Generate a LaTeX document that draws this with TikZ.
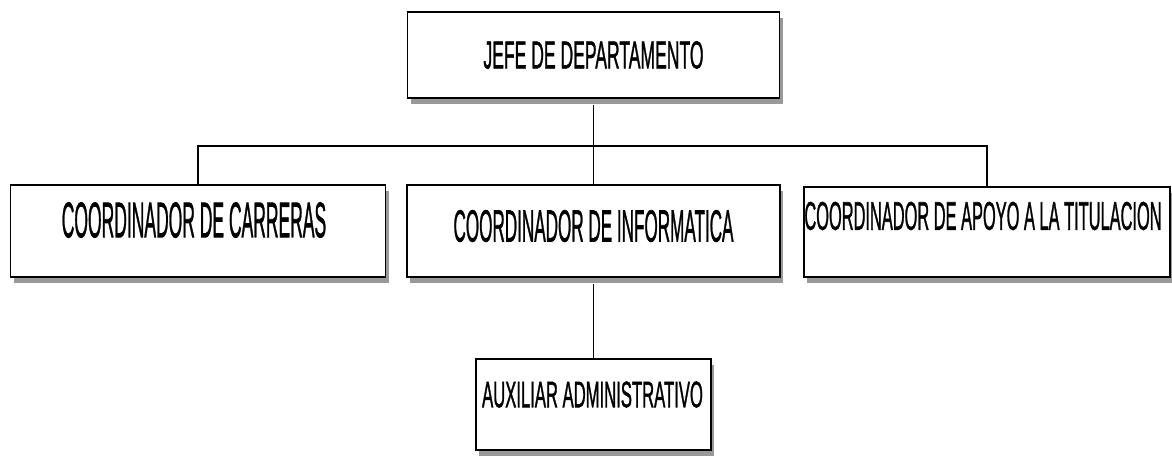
\documentclass[tikz,border=0pt]{standalone}
\usepackage{fontspec}
\usepackage{graphicx}
\setmainfont{Liberation Sans}
\newfontfamily\orgfont[FakeBold=1.5]{Liberation Sans}
\usetikzlibrary{shadows}
\newcommand{\otext}[3]{{\orgfont\fontsize{#2}{#2}\selectfont\scalebox{#1}[1]{#3}}}
\tikzset{
  orgbox/.style={draw=black, line width=1.6pt, fill=white, inner sep=0pt,
    rectangle, drop shadow={shadow xshift=3pt, shadow yshift=-6pt, fill=black!40, opacity=1}},
  orgtxt/.style={inner sep=0pt, text=black},
  conn/.style={draw=black, line width=1.6pt},
  bus/.style={draw=black, line width=2.4pt}
}
\begin{document}
\begin{tikzpicture}[x=1pt,y=-1pt]
\useasboundingbox (0,0) rectangle (1172,456);
\node[orgbox, minimum width=372pt, minimum height=86pt,
  label={[orgtxt]center:\otext{0.45}{39}{JEFE DE DEPARTAMENTO}}] (jefe) at (593.5,55) {};
\node[orgbox, minimum width=375pt, minimum height=92pt,
  label={[orgtxt,xshift=-4pt,yshift=11pt]center:\otext{0.35}{50}{COORDINADOR DE CARRERAS}}] (carr) at (198,231) {};
\node[orgbox, minimum width=373pt, minimum height=92pt,
  label={[orgtxt,yshift=5pt]center:\otext{0.38}{45}{COORDINADOR DE INFORMATICA}}] (info) at (593.5,231) {};
\node[orgbox, minimum width=366pt, minimum height=90pt,
  label={[orgtxt,xshift=-4pt,yshift=16pt]center:\otext{0.41}{40}{COORDINADOR DE APOYO A LA TITULACION}}] (tit) at (987,232) {};
\node[orgbox, minimum width=235pt, minimum height=91pt,
  label={[orgtxt,xshift=-1pt,yshift=10pt]center:\otext{0.45}{37}{AUXILIAR ADMINISTRATIVO}}] (aux) at (593.5,404.5) {};
\coordinate (busc) at (593.5,146);
\path[conn] (jefe.south) ++(0,6) -- (busc);
\path[conn] (busc) -- (info.north);
\path[bus] (carr.north) |- (busc) -| (tit.north);
\path[conn] (info.south) ++(0,6) -- (aux.north);
\end{tikzpicture}
\end{document}
